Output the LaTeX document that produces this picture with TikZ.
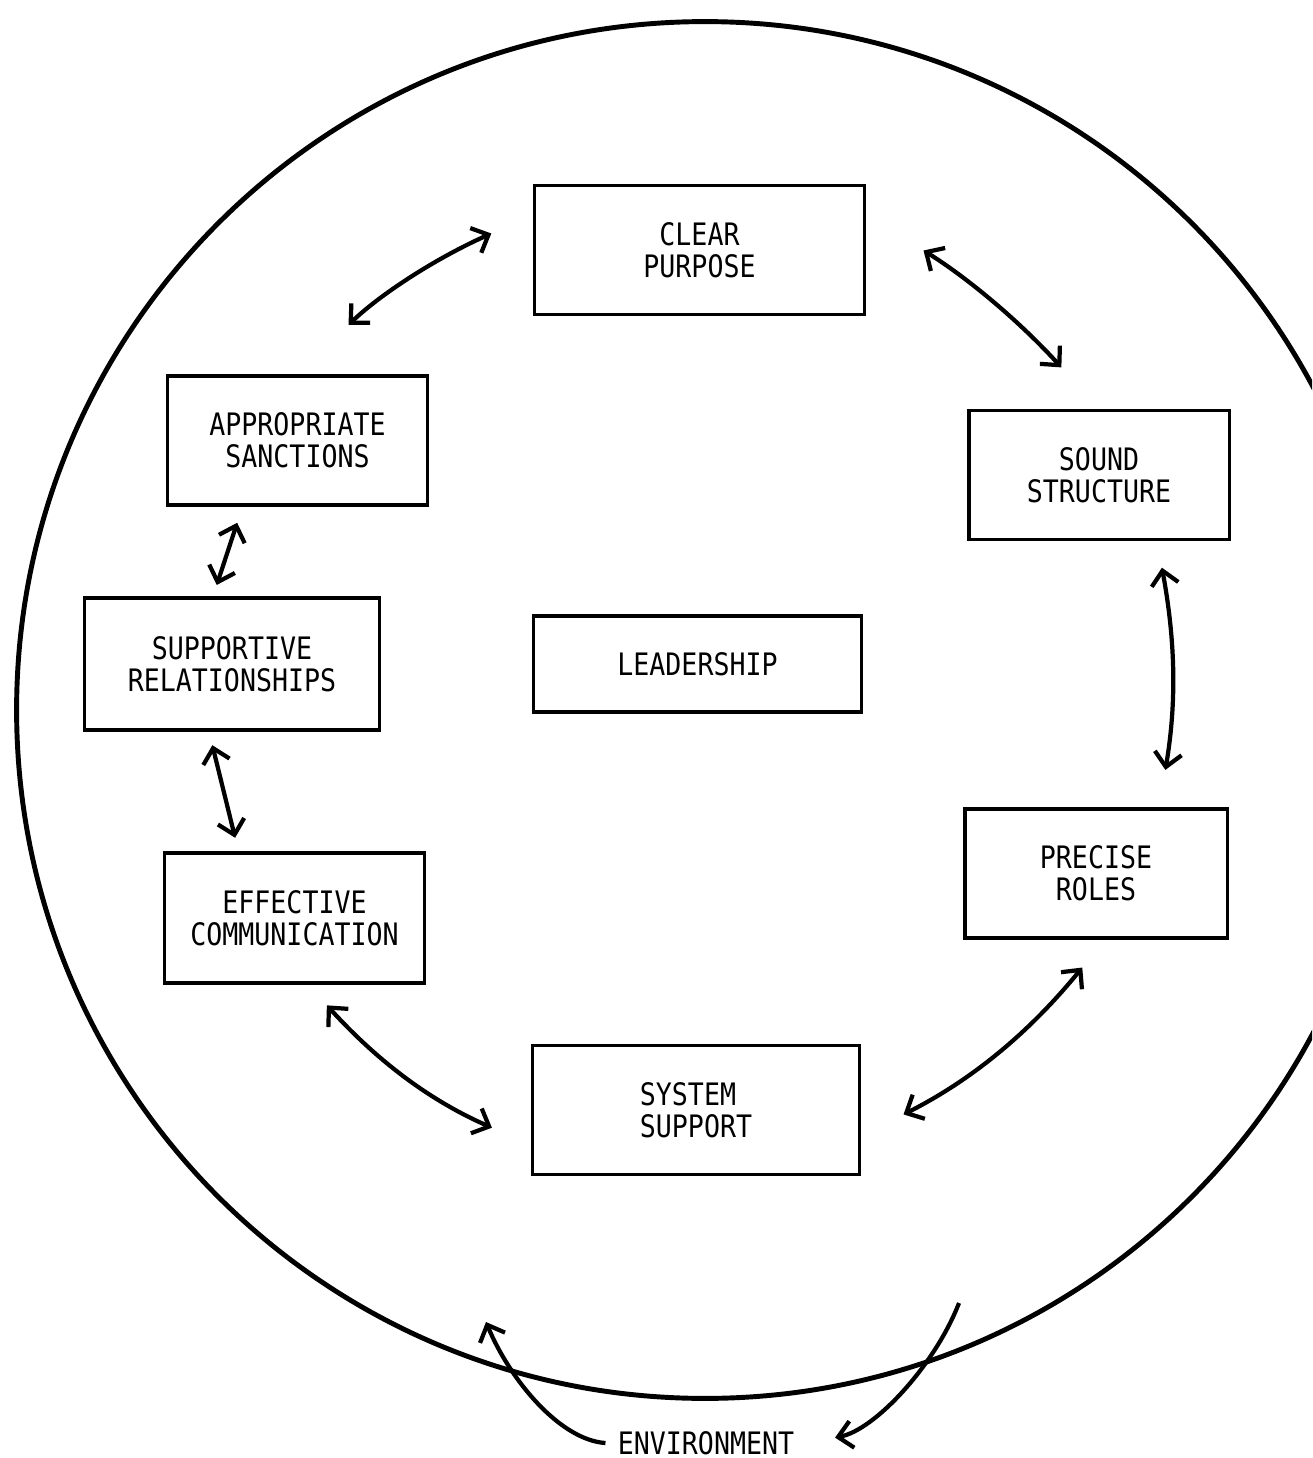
\documentclass[tikz,border=0pt]{standalone}
\usepackage{fontspec}
\newfontfamily\boxfont[FakeStretch=0.86]{DejaVu Sans Mono}
\usepackage{tikz}
\usetikzlibrary{arrows.meta}

\begin{document}
\begin{tikzpicture}[
    x=0.01cm, y=0.01cm,
    block/.style={rectangle, draw, line width=0.9pt, minimum width=2.6cm,
    minimum height=1.29cm, inner sep=0pt, align=center,
    font=\boxfont\fontsize{8.8}{9.1}\selectfont},
    link/.style={{Straight Barb[length=1.4mm,width=2.7mm]}-{Straight Barb[length=1.4mm,width=2.7mm]},
    line width=1.2pt},
    envarrow/.style={-{Straight Barb[length=1.4mm,width=2.7mm]}, line width=1.2pt},
]
\useasboundingbox (0,0) rectangle (1312,-1458);
\clip (0,0) rectangle (1312,-1458);

\draw[line width=1.4pt] (705,-710) circle[radius=6.88cm];

\node[block, minimum width=3.29cm] (clear) at (699.5,-250) {CLEAR\\PURPOSE};
\node[block] (sanctions) at (297.5,-440.5) {APPROPRIATE\\SANCTIONS};
\node[block] (sound) at (1099,-475) {SOUND\\STRUCTURE};
\node[block, minimum width=2.94cm, minimum height=1.32cm] (supportive) at (232,-664) {SUPPORTIVE\\RELATIONSHIPS};
\node[block, minimum width=3.27cm, minimum height=0.96cm] (leadership) at (697.5,-664) {LEADERSHIP};
\node[block, minimum width=2.62cm] (precise) at (1096,-873.5) {PRECISE\\ROLES};
\node[block, minimum height=1.3cm] (effective) at (294.5,-918) {EFFECTIVE\\COMMUNICATION};
\node[block, minimum width=3.26cm, align=left] (system) at (696,-1110) {SYSTEM\\SUPPORT};

\node[font=\boxfont\fontsize{8.8}{9.1}\selectfont] (env) at (706,-1443) {ENVIRONMENT};
\coordinate (envin) at (486,-1322);
\coordinate (envout) at (959,-1303);

\draw[link, shorten <=7.1mm, shorten >=4.6mm] (sanctions.north) to[bend left=10] (clear.168);
\draw[link, shorten <=6.8mm, shorten >=5.6mm] (clear.12) to[bend left=8] (sound.north);
\draw[link, shorten <=1.7mm, shorten >=1.2mm] ([xshift=-5.5mm]sanctions.south) -- ([xshift=-1.9mm]supportive.north);
\draw[link, shorten <=1.4mm, shorten >=1.4mm] ([xshift=-2.3mm]supportive.south) -- ([xshift=-5.6mm]effective.north);
\draw[link, shorten <=2.7mm, shorten >=3.8mm] ([xshift=5.8mm]sound.south) to[bend left=10] ([xshift=6.3mm]precise.north);
\draw[link, shorten <=2.8mm, shorten >=4.3mm] ([xshift=1.35mm]effective.south) to[bend right=12] (system.192);
\draw[link, shorten <=4.8mm, shorten >=3.6mm] (system.351) to[bend right=12] ([xshift=0.9mm]precise.south);

\draw[envarrow] (env.west) .. controls (560,-1440) and (510,-1380) .. (envin);
\draw[envarrow, shorten >=2.9mm] (envout) .. controls (935,-1365) and (875,-1430) .. (env.east);

\end{tikzpicture}
\end{document}
